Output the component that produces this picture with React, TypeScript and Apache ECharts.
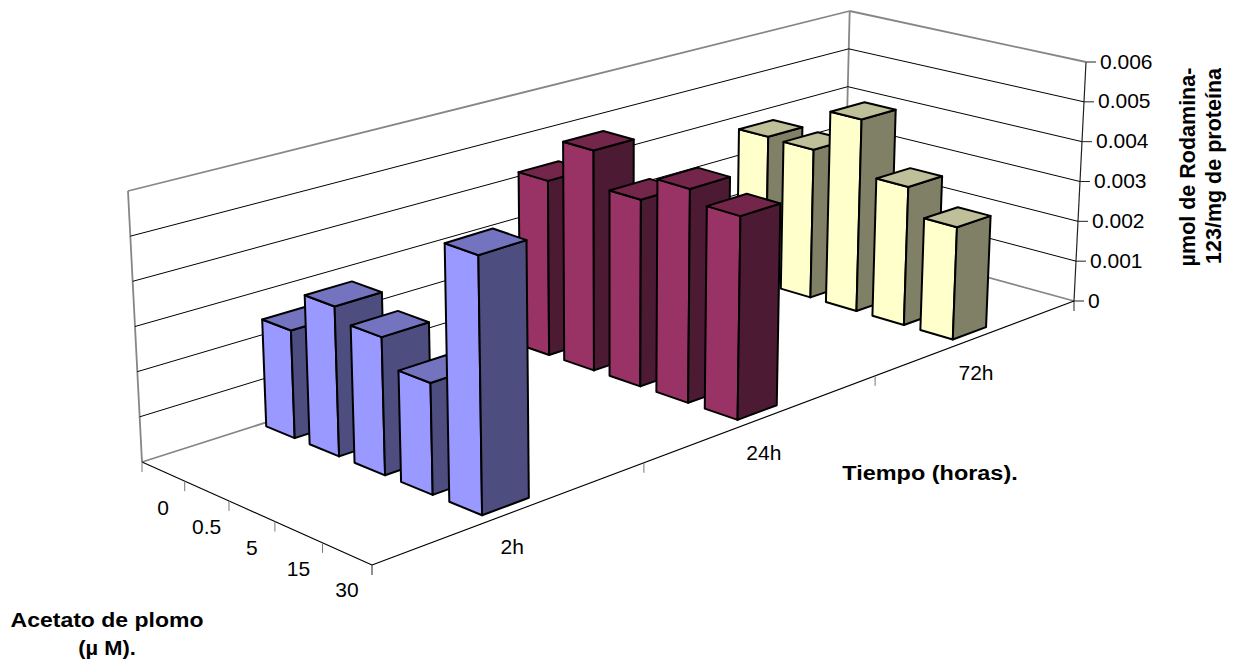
import React, { useEffect, useRef } from "react";
import * as echarts from "echarts";

// Categories along the two floor axes and the value axis ticks.
const concentrations = ["0", "0.5", "5", "15", "30"];
const times = ["2h", "24h", "72h"];
const valueTicks = [0, 0.001, 0.002, 0.003, 0.004, 0.005, 0.006];

// Measured rhodamine-123 per time group, one value per lead acetate dose.
const values2h = [0.00242, 0.00334, 0.00305, 0.00245, 0.00564];
const values24h = [0.00415, 0.00519, 0.00436, 0.00495, 0.00467];
const values72h = [0.00373, 0.0037, 0.00475, 0.00339, 0.00273];

const FONT = '"Liberation Sans", Arial, sans-serif';

// Box corners on screen: the floor, the ceiling heights, and the point
// far below the chart where the vertical edges of the box converge.
const FLOOR = [[142, 462], [844, 238], [1074, 301], [372, 565]];
const CEILING = [[128, 191], [850, 11], [1086, 62], [364, 282]];
const VANISH = [611, 9529];

// Unit square to quadrilateral perspective mapping.
function homography(q: number[][]) {
  const [[x0, y0], [x1, y1], [x2, y2], [x3, y3]] = q;
  const dx1 = x1 - x2, dx2 = x3 - x2, sx = x0 - x1 + x2 - x3;
  const dy1 = y1 - y2, dy2 = y3 - y2, sy = y0 - y1 + y2 - y3;
  const den = dx1 * dy2 - dx2 * dy1;
  const g = (sx * dy2 - dx2 * sy) / den;
  const h = (dx1 * sy - sx * dy1) / den;
  const a = x1 - x0 + g * x1, b = x3 - x0 + h * x3;
  const d = y1 - y0 + g * y1, e = y3 - y0 + h * y3;
  return (u: number, v: number) => {
    const w = g * u + h * v + 1;
    return [(a * u + b * v + x0) / w, (d * u + e * v + y0) / w];
  };
}
const floorAt = homography(FLOOR);
const ceilingAt = homography(CEILING);

// u runs along the time axis, v along the dose axis, t from floor to ceiling.
function project(u: number, v: number, t: number) {
  const f = floorAt(u, v);
  const rise = (f[1] - ceilingAt(u, v)[1]) * t;
  const lean = (f[0] - VANISH[0]) / (VANISH[1] - f[1]);
  return [f[0] + lean * rise, f[1] - rise];
}

// Height fraction of a value, read through the hidden value axis.
function heightOf(api: any, params: any, value: number) {
  const sys = params.coordSys;
  return (sys.y + sys.height - api.coord([0, value])[1]) / sys.height;
}

function seg(a: number[], b: number[], stroke: string, lineWidth: number) {
  return {
    type: "line",
    shape: { x1: a[0], y1: a[1], x2: b[0], y2: b[1] },
    style: { stroke, lineWidth },
  };
}

function label(text: string, x: number, y: number, align = "center") {
  return {
    type: "text",
    style: { text, x, y, fill: "#000", fontSize: 21, fontFamily: FONT, align, verticalAlign: "middle" },
  };
}

const WALL = "#868686";
const BAR_U = 0.17;
const BAR_V = 0.66;
const BAR_V_SHIFT = -0.008;
const TIME_TICK_SHIFT = -0.005;

function barSeries(name: string, group: number, vals: number[], light: string, top: string, dark: string) {
  return {
    type: "custom",
    name,
    coordinateSystem: "cartesian2d",
    clip: false,
    silent: true,
    data: concentrations.map((c, i) => [c, vals[i]]),
    renderItem(params: any, api: any) {
      const j = params.dataIndex;
      const t = heightOf(api, params, api.value(1));
      const uc = (group + 0.5) / times.length;
      const vc = (j + 0.5) / concentrations.length + BAR_V_SHIFT;
      const du = (BAR_U / times.length) / 2;
      const dv = (BAR_V / concentrations.length) / 2;
      const u0 = uc - du, u1 = uc + du, v0 = vc - dv, v1 = vc + dv;
      const face = (pts: number[][], fill: string) => ({
        type: "polygon",
        shape: { points: pts },
        style: { fill, stroke: "#000", lineWidth: 2, lineJoin: "round" },
      });
      return {
        type: "group",
        children: [
          face([project(u0, v0, 0), project(u0, v1, 0), project(u0, v1, t), project(u0, v0, t)], light),
          face([project(u0, v1, 0), project(u1, v1, 0), project(u1, v1, t), project(u0, v1, t)], dark),
          face([project(u0, v0, t), project(u0, v1, t), project(u1, v1, t), project(u1, v0, t)], top),
        ],
      };
    },
  };
}

// Walls, gridlines, axis lines and their tick labels.
const frameSeries = {
  type: "custom",
  name: "frame",
  coordinateSystem: "cartesian2d",
  clip: false,
  silent: true,
  data: valueTicks.map((v) => [concentrations[0], v]),
  renderItem(params: any, api: any) {
    const value = api.value(1);
    const t = heightOf(api, params, value);
    const last = params.dataIndex === valueTicks.length - 1;
    const first = params.dataIndex === 0;
    const color = first || last ? WALL : "#000";
    const width = first || last ? 1.8 : 1;
    const anchor = project(1, 1, t);
    const children: any[] = [
      seg(project(0, 0, t), project(1, 0, t), color, width),
      seg(project(1, 0, t), project(1, 1, t), color, width),
      seg(anchor, [anchor[0] + 10, anchor[1]], "#222", 1),
      label(String(value), anchor[0] + 14, anchor[1] - 1, "left"),
    ];
    if (first) {
      children.push(
        seg(project(0, 0, 0), project(0, 0, 1), WALL, 1.8),
        seg(project(1, 0, 0), project(1, 0, 1), WALL, 1.8),
        seg(project(1, 1, 0), project(1, 1, 1), "#222", 1.2),
        seg(anchor, [anchor[0], anchor[1] + 10], "#222", 1),
        seg(project(0, 0, 0), project(0, 1, 0), "#000", 1.1),
        seg(project(0, 1, 0), project(1, 1, 0), "#000", 1.1),
      );
      for (let j = 0; j <= concentrations.length; j++) {
        const p = project(0, j / concentrations.length, 0);
        children.push(seg(p, [p[0], p[1] + 10], j === concentrations.length ? "#222" : "#777", 1));
        if (j < concentrations.length) {
          const m = project(0, (j + 0.5) / concentrations.length, 0);
          children.push(label(concentrations[j], m[0], m[1] + 36));
        }
      }
      for (let i = 1; i < times.length; i++) {
        const p = project(i / times.length + TIME_TICK_SHIFT, 1, 0);
        children.push(seg(p, [p[0], p[1] + 10], "#777", 1));
      }
      times.forEach((name, i) => {
        const m = project((i + 0.5) / times.length, 1, 0);
        children.push(label(name, m[0] - 4, m[1] + 36));
      });
    }
    return { type: "group", children };
  },
};

function title(text: string, x: number, y: number, scaleX = 1, rotation = 0, fontSize = 21) {
  return {
    type: "text",
    x,
    y,
    scaleX,
    rotation,
    style: { text, fill: "#000", fontSize, fontWeight: "bold", fontFamily: FONT, align: "center", verticalAlign: "middle" },
  };
}

export default function App() {
  const ref = useRef<HTMLDivElement>(null);
  useEffect(() => {
    const chart = echarts.init(ref.current!, undefined, { renderer: "svg" });
    chart.setOption({
      animation: false,
      backgroundColor: "#fff",
      grid: { left: 100, right: 100, top: 100, bottom: 100 },
      xAxis: { type: "category", data: concentrations, show: false },
      yAxis: { type: "value", min: 0, max: 0.006, interval: 0.001, show: false },
      series: [
        frameSeries,
        barSeries(times[2], 2, values72h, "#FFFFCC", "#BFBF99", "#808066"),
        barSeries(times[1], 1, values24h, "#993366", "#732649", "#4D1A33"),
        barSeries(times[0], 0, values2h, "#9999FF", "#7373BF", "#4D4D80"),
      ],
      graphic: [
        title("Tiempo (horas).", 930, 473, 1.117),
        title("Acetato de plomo", 107, 620, 1.095),
        title("(µ M).", 107, 648, 1.04),
        title("µmol de Rodamina-", 1188, 167, 1, Math.PI / 2, 21.5),
        title("123/mg de proteína", 1214, 166, 1, Math.PI / 2, 21.5),
      ],
    });
    return () => chart.dispose();
  }, []);
  return <div ref={ref} style={{ position: "absolute", left: 0, top: 0, width: 1234, height: 663 }} />;
}
